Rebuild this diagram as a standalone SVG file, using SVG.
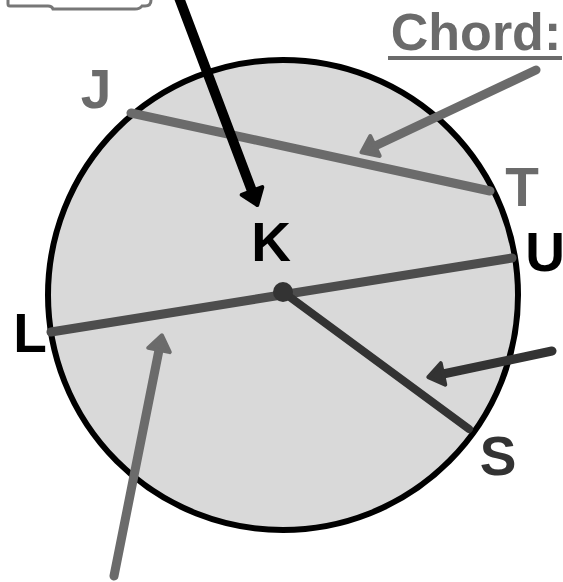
<svg xmlns="http://www.w3.org/2000/svg" width="563" height="582" viewBox="0 0 563 582">
<style>
.lbl{font-family:"Liberation Sans",Arial,sans-serif;font-weight:bold;font-size:55px;text-anchor:middle}
.ttl{font-family:"Liberation Sans",Arial,sans-serif;font-weight:bold;font-size:52px;text-anchor:middle}
.ln{fill:none;stroke-linecap:round}
</style>
<defs>
<marker id="hBlack" markerUnits="userSpaceOnUse" viewBox="-4 -16 26 32" refX="0" refY="0" markerWidth="26" markerHeight="32" orient="auto"><path d="M0,-11 L15,0 L0,11 Z" fill="#000" stroke="#000" stroke-width="4" stroke-linejoin="round"/></marker>
<marker id="hGray" markerUnits="userSpaceOnUse" viewBox="-4 -16 26 32" refX="0" refY="0" markerWidth="26" markerHeight="32" orient="auto"><path d="M0,-11 L15,0 L0,11 Z" fill="#6b6b6b" stroke="#6b6b6b" stroke-width="4" stroke-linejoin="round"/></marker>
<marker id="hDark" markerUnits="userSpaceOnUse" viewBox="-4 -16 26 32" refX="0" refY="0" markerWidth="26" markerHeight="32" orient="auto"><path d="M0,-11 L15,0 L0,11 Z" fill="#333" stroke="#333" stroke-width="4" stroke-linejoin="round"/></marker>
</defs>
<rect width="563" height="582" fill="#fff"/>
<g id="callout-box"><path d="M8,-2 L8,4 Q8,6 10,6 L48,6 Q52,6 53,9 L135,9 Q140,9 142,6 L145,6 Q151,6 151,0 L151,-2" fill="none" stroke="#777" stroke-width="3"/></g>
<g id="circle"><circle cx="283" cy="295" r="235" fill="#d9d9d9" stroke="#000" stroke-width="6"/></g>
<g id="chords">
<line class="ln" x1="131" y1="113" x2="490" y2="191" stroke="#6b6b6b" stroke-width="9"/>
<line class="ln" x1="51" y1="332" x2="512" y2="258" stroke="#4d4d4d" stroke-width="9"/>
<line class="ln" x1="283" y1="292" x2="469" y2="429" stroke="#333" stroke-width="8"/>
<circle cx="283" cy="292" r="10" fill="#333"/>
</g>
<g id="connectors">
<line class="ln" x1="178" y1="-5" x2="252" y2="191" stroke="#000" stroke-width="10" marker-end="url(#hBlack)"/>
<line class="ln" x1="536" y1="70" x2="375" y2="146" stroke="#6b6b6b" stroke-width="9" marker-end="url(#hGray)"/>
<line class="ln" x1="552" y1="351" x2="443" y2="374" stroke="#333" stroke-width="9" marker-end="url(#hDark)"/>
<line class="ln" x1="114" y1="576" x2="159" y2="350" stroke="#6b6b6b" stroke-width="9" marker-end="url(#hGray)"/>
</g>
<g id="title"><text x="476" y="50" class="ttl" fill="#6b6b6b">Chord:</text><rect x="388" y="56" width="174" height="4" fill="#6b6b6b"/></g>
<g id="label-J"><text class="lbl" x="96" y="108" fill="#6b6b6b">J</text></g>
<g id="label-T"><text class="lbl" x="522" y="206" fill="#6b6b6b">T</text></g>
<g id="label-K"><text class="lbl" x="271" y="261" fill="#000">K</text></g>
<g id="label-U"><text class="lbl" x="545" y="271" fill="#000">U</text></g>
<g id="label-L"><text class="lbl" x="30" y="352" fill="#000">L</text></g>
<g id="label-S"><text class="lbl" x="498" y="475" fill="#333">S</text></g>
</svg>
